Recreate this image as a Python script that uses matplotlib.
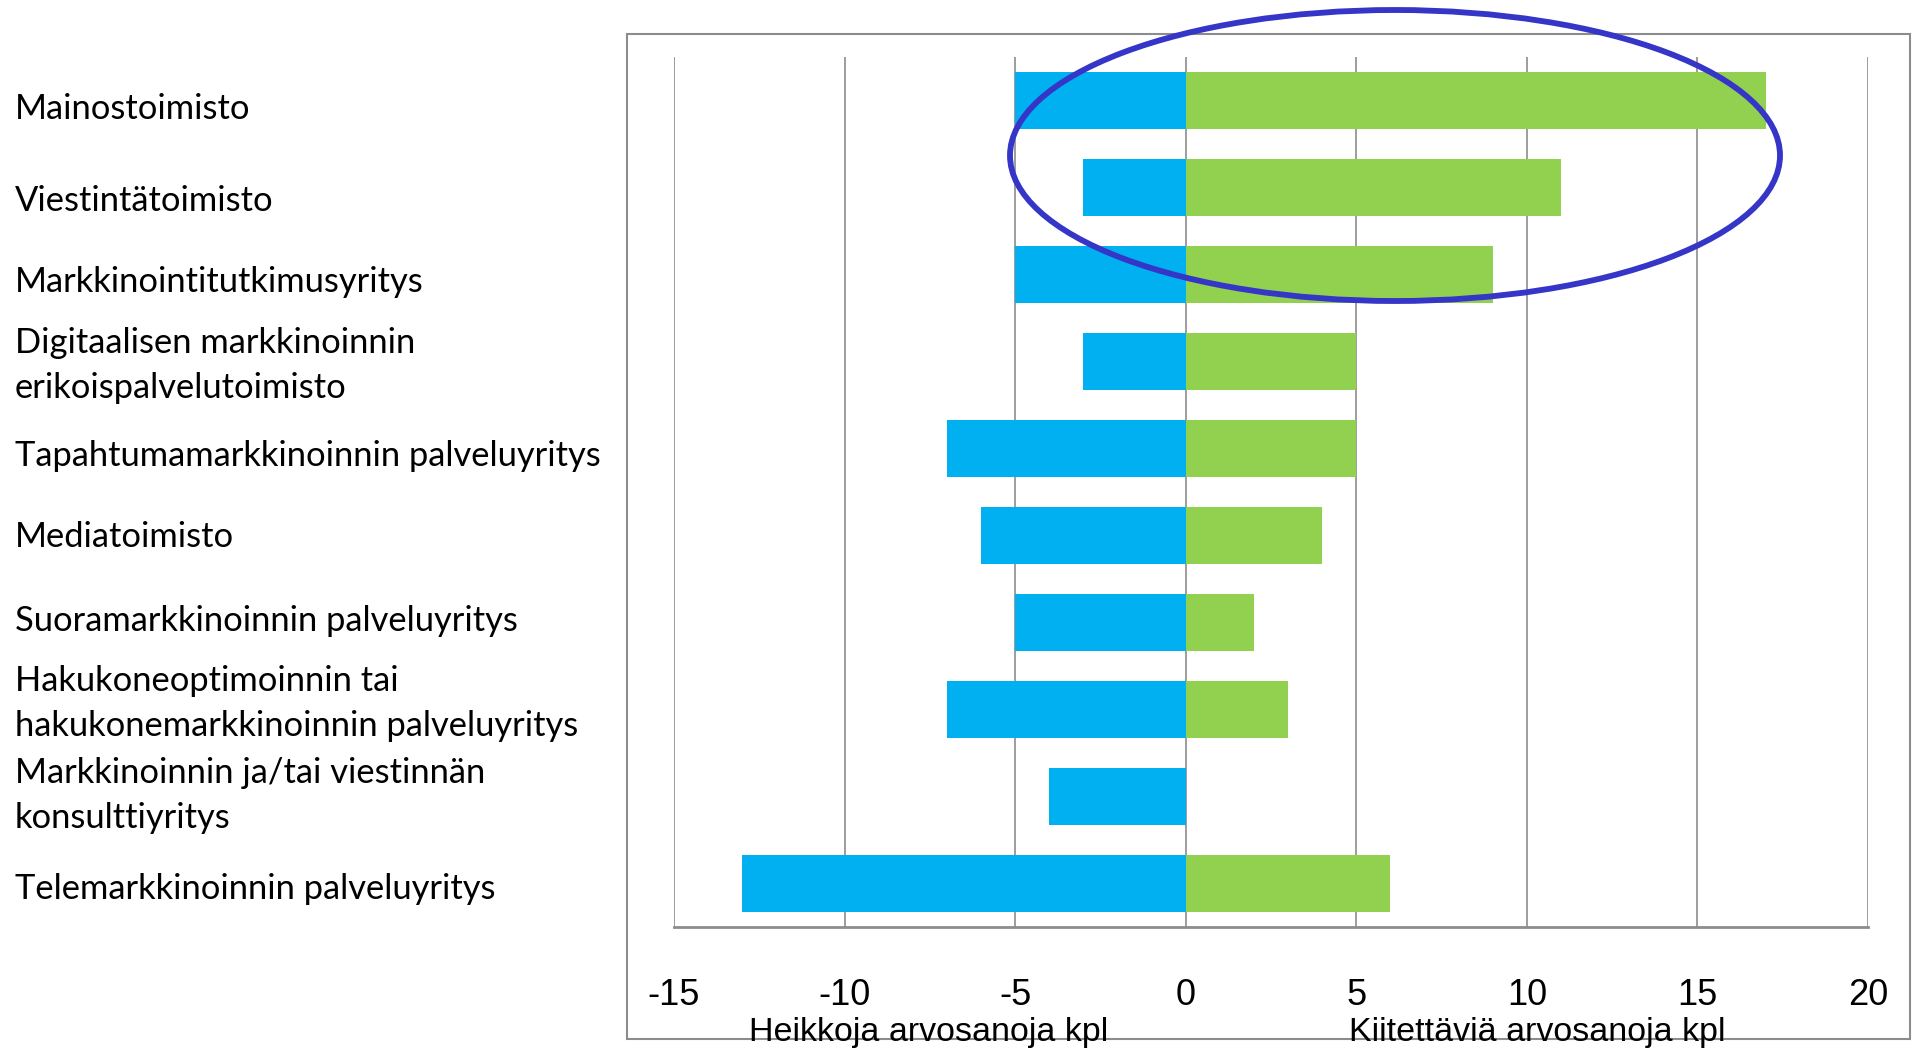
import matplotlib
matplotlib.use("Agg")
import matplotlib.pyplot as plt
from matplotlib import font_manager as fm
from matplotlib.patches import Ellipse, Rectangle
import matplotlib.transforms as mtrans

categories = [
    "Mainostoimisto",
    "Viestintätoimisto",
    "Markkinointitutkimusyritys",
    "Digitaalisen markkinoinnin\nerikoispalvelutoimisto",
    "Tapahtumamarkkinoinnin palveluyritys",
    "Mediatoimisto",
    "Suoramarkkinoinnin palveluyritys",
    "Hakukoneoptimoinnin tai\nhakukonemarkkinoinnin palveluyritys",
    "Markkinoinnin ja/tai viestinnän\nkonsulttiyritys",
    "Telemarkkinoinnin palveluyritys",
]
heikkoja = [-5, -3, -5, -3, -7, -6, -5, -7, -4, -13]
kiitettavia = [17, 11, 9, 5, 5, 4, 2, 3, 0, 6]
xticks = [-15, -10, -5, 0, 5, 10, 15, 20]
xlabel_left = "Heikkoja arvosanoja kpl"
xlabel_right = "Kiitettäviä arvosanoja kpl"

names = {f.name for f in fm.fontManager.ttflist}
narrow = "Liberation Sans Narrow" if "Liberation Sans Narrow" in names else "Liberation Sans"
label_font = "Lato" if "Lato" in names else "DejaVu Sans"

W, H = 1917, 1048
fig = plt.figure(figsize=(W / 100, H / 100), dpi=100)

# outer chart frame
fig.patches.append(Rectangle((627 / W, 1 - 1039 / H), (1910 - 627) / W, (1039 - 34) / H,
                             transform=fig.transFigure, fill=False, edgecolor="#8c8c8c",
                             linewidth=1.5, zorder=0))

ax = fig.add_axes([674 / W, 1 - 927 / H, (1868 - 674) / W, (927 - 57) / H])
ax.set_facecolor("none")
y = list(range(len(categories)))
ax.barh(y, heikkoja, height=0.65, color="#00B0F0", zorder=2)
ax.barh(y, kiitettavia, height=0.65, color="#92D050", zorder=2)

ax.set_xlim(-15, 20)
ax.set_ylim(len(categories) - 0.5, -0.5)
ax.set_xticks(xticks)
ax.set_xticklabels([str(v) for v in xticks], fontfamily=narrow, fontsize=26)
ax.tick_params(axis="x", length=0, pad=37)
ax.set_yticks([])
ax.grid(axis="x", color="#8c8c8c", linewidth=1.2, zorder=1)
for s in ["left", "right", "top"]:
    ax.spines[s].set_visible(False)
ax.spines["bottom"].set_color("#8c8c8c")
ax.spines["bottom"].set_linewidth(2)

# category labels
label_dy = [-9, -14, -8, -4, -8, -2, 1, 6, 1, -6]  # pixel nudges
trans = mtrans.blended_transform_factory(fig.transFigure, ax.transData)
for i, (c, dy) in enumerate(zip(categories, label_dy)):
    off = mtrans.offset_copy(trans, fig=fig, x=0, y=dy * 0.72, units="points")
    ax.text(15 / W, i, c, transform=off, ha="left", va="center", fontsize=24.8,
            fontfamily=label_font, linespacing=1.5, color="black")

fig.text(929 / W, 1 - 1033 / H, xlabel_left, ha="center", va="center",
         fontfamily=narrow, fontsize=24.5)
fig.text(1537 / W, 1 - 1033 / H, xlabel_right, ha="center", va="center",
         fontfamily=narrow, fontsize=24.5)

# highlight ellipse
fig.patches.append(Ellipse((1395 / W, 1 - 155.5 / H), 770 / W, 291 / H,
                           transform=fig.transFigure, fill=False,
                           edgecolor="#3535C8", linewidth=4.2, zorder=5))

fig.savefig("out.png", dpi=100)
